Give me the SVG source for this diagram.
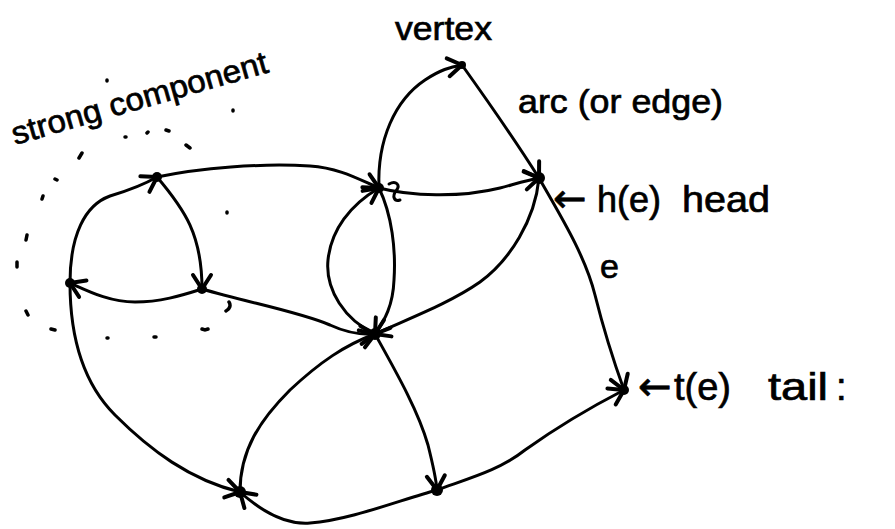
<svg xmlns="http://www.w3.org/2000/svg" width="895" height="529" viewBox="0 0 895 529">
<style>
.e{fill:none;stroke:#000;stroke-width:3;stroke-linecap:round;stroke-linejoin:round}
.ea{fill:none;stroke:#000;stroke-width:3;stroke-linecap:round;stroke-linejoin:round;marker-end:url(#ah)}
.n{fill:#000}
.d{fill:none;stroke:#000;stroke-width:3.5;stroke-linecap:round}
.t{font-family:"Liberation Sans","DejaVu Sans",sans-serif;fill:#000;stroke:#000;stroke-width:0.7}
.ar{font-family:"DejaVu Sans",sans-serif;font-size:40px}
</style>
<defs>
<marker id="ah" markerUnits="userSpaceOnUse" markerWidth="30" markerHeight="30" refX="0" refY="0" orient="auto" overflow="visible">
<path d="M-14,-9 L0,0 L-14,9" fill="none" stroke="#000" stroke-width="4" stroke-linecap="round" stroke-linejoin="round"/>
</marker>
</defs>
<rect width="895" height="529" fill="#fff"/>

<g id="strong-component-boundary">
<path class="d" d="M125,137 l1,0 M147,133 l1,-1 M166,130 l3,1 M186,145 l4,3 M82,153 l-3,5 M55,179 l2,1 M43,196 l-1,3 M27,235 l-1,5 M17,262 l0,5 M26,311 l2,4 M51,329 l4,1 M107,338 l1,0 M154,337 l2,0 M202,329 l3,1 l3,-1 M229,302 c2,3 1,7 -3,9 M227,212 l0,1 M107,80 l0,1 M233,110 l0,1"/>
</g>

<g id="connectors">
<path id="E-A" class="ea" d="M70,283 C70,235 85,205 110,196 C130,190 145,184 157,177"/>
<path id="A-B" class="ea" d="M157,177 C200,168 260,163 310,166 C340,168 360,180 379,188"/>
<path id="A-F" class="ea" d="M157,177 C185,210 202,235 202,289"/>
<path id="F-E" class="ea" d="M202,289 C180,296 160,302 135,302 C110,302 90,292 70,283"/>
<path id="F-G" class="ea" d="M202,289 C250,303 300,312 330,325 C345,332 360,335 375,334"/>
<path id="E-I" class="ea" d="M70,283 C70,340 85,385 115,415 C150,450 190,480 240,492"/>
<path id="I-G" class="ea" d="M240,492 C240,450 260,420 290,390 C320,362 345,345 375,334"/>
<path id="G-J" class="ea" d="M375,334 C395,370 418,410 428,445 C433,465 436,478 437,490"/>
<path id="J-I" class="ea" d="M437,490 C400,500 350,520 310,523 C285,525 260,510 240,492"/>
<path id="J-H" class="ea" d="M437,490 C470,478 500,470 525,450 C560,425 595,405 624,390"/>
<path id="B-C" class="ea" d="M379,188 C377,140 395,100 425,80 C440,70 450,67 462,65"/>
<path id="C-D" class="ea" d="M462,65 C487,100 515,140 539,178"/>
<path id="B-D" class="ea" d="M379,188 C410,196 460,198 500,188 C515,184 528,180 539,178"/>
<path id="G-B" class="ea" d="M375,334 C345,320 325,290 328,260 C331,230 350,205 379,188"/>
<path id="B-G" class="ea" d="M379,188 C392,215 396,250 394,280 C393,305 385,320 375,334"/>
<path id="D-G" class="ea" d="M539,178 C535,220 510,260 480,282 C450,303 410,318 375,334"/>
<path id="D-H" class="ea" d="M539,178 C560,215 585,255 595,295 C605,335 615,365 624,390"/>
</g>

<g id="node-A"><circle class="n" cx="157" cy="177" r="5"/></g>
<g id="node-B"><circle class="n" cx="379" cy="188" r="5"/><path class="e" d="M389,184 C396,180 401,185 396,191 C392,196 394,202 400,200"/></g>
<g id="node-C"><circle class="n" cx="462" cy="65" r="4"/></g>
<g id="node-D"><circle class="n" cx="539" cy="178" r="6"/></g>
<g id="node-E"><circle class="n" cx="70" cy="283" r="5"/></g>
<g id="node-F"><circle class="n" cx="202" cy="289" r="5"/></g>
<g id="node-G"><circle class="n" cx="375" cy="334" r="6"/></g>
<g id="node-H"><circle class="n" cx="624" cy="390" r="5"/></g>
<g id="node-I"><circle class="n" cx="240" cy="492" r="6"/></g>
<g id="node-J"><circle class="n" cx="437" cy="490" r="6"/></g>

<g id="labels">
<text class="t" transform="translate(15,145) rotate(-16)" font-size="32" textLength="265" lengthAdjust="spacingAndGlyphs">strong component</text>
<text class="t" x="395" y="40" font-size="34" textLength="97" lengthAdjust="spacingAndGlyphs">vertex</text>
<text class="t" x="518" y="113" font-size="34" textLength="205" lengthAdjust="spacingAndGlyphs">arc (or edge)</text>
<text class="t" x="553" y="212" font-size="36"><tspan class="ar">←</tspan> <tspan x="597">h(e)</tspan> <tspan x="682" textLength="88" lengthAdjust="spacingAndGlyphs">head</tspan></text>
<text class="t" x="600" y="278" font-size="34">e</text>
<text class="t" x="638" y="400" font-size="38"><tspan class="ar">←</tspan> <tspan x="674">t(e)</tspan> <tspan x="768" textLength="60" lengthAdjust="spacingAndGlyphs">tail</tspan> <tspan x="836">:</tspan></text>
</g>
</svg>
